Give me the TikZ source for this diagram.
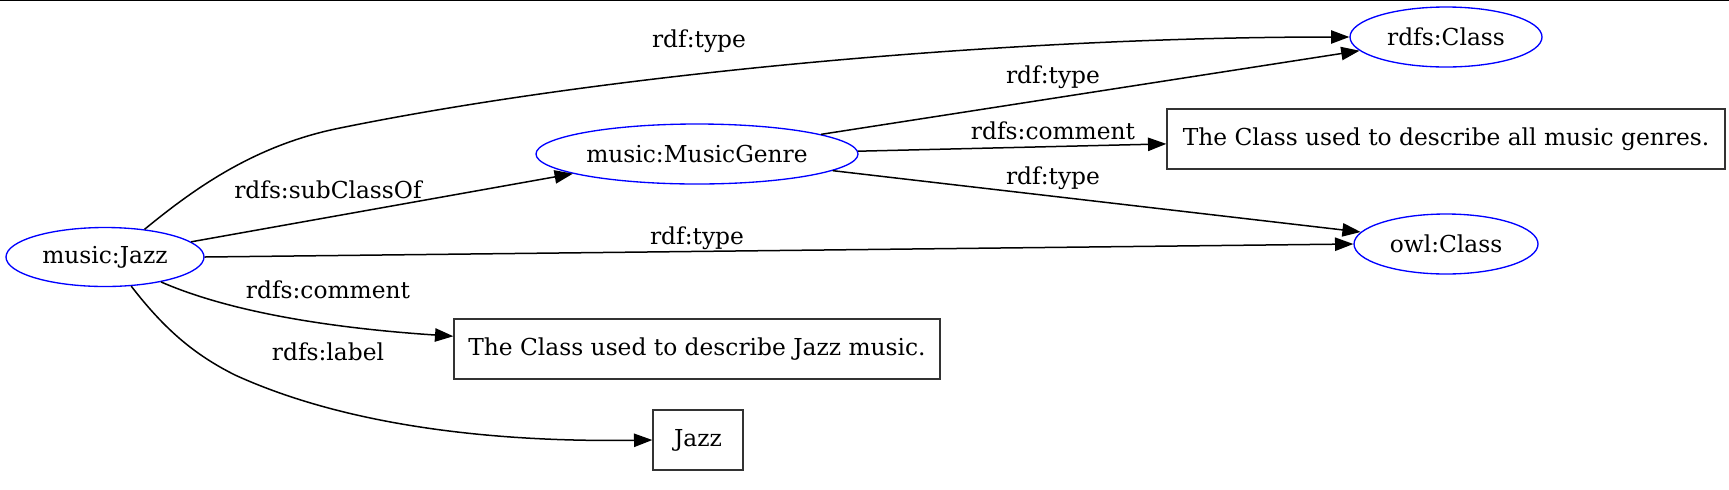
\documentclass[tikz,border=0pt]{standalone}
\usepackage{fontspec}
\setmainfont{DejaVu Serif}
\usetikzlibrary{arrows.meta,shapes.geometric}
\begin{document}
\begin{tikzpicture}[x=0.6pt,y=-0.6pt,
  every node/.style={font=\fontsize{14}{16}\selectfont},
  res/.style={ellipse,draw=blue,line width=0.8pt,inner sep=0pt},
  lit/.style={rectangle,draw=black!80,line width=0.8pt,inner sep=0pt},
  edge/.style={draw=black,line width=0.9pt,-{Triangle[length=11pt,width=8pt]}},
  lbl/.style={anchor=base,inner sep=0pt}]
\useasboundingbox (0,0) rectangle (1729,489);
\draw[line width=1.2pt] (0,0) -- (1729,0);
% nodes
\node[res,minimum width=118.8pt,minimum height=35.4pt] (jazz) at (105,257) {music:Jazz};
\node[res,minimum width=193.2pt,minimum height=36pt] (genre) at (697,154) {music:MusicGenre};
\node[res,minimum width=115.2pt,minimum height=36pt] (rdfsclass) at (1446,37) {rdfs:Class};
\node[res,minimum width=110.4pt,minimum height=36pt] (owlclass) at (1446,244) {owl:Class};
\node[lit,minimum width=334.8pt,minimum height=36pt] (gcomment) at (1446,139) {The Class used to describe all music genres.};
\node[lit,minimum width=291.6pt,minimum height=36pt] (jcomment) at (697,349) {The Class used to describe Jazz music.};
\node[lit,minimum width=54pt,minimum height=36pt] (jlabel) at (698,440) {Jazz};
% edges
\draw[edge] (jazz.35) .. controls (195,188) and (255,145) .. (340,128)
  .. controls (600,75) and (1000,37) .. (rdfsclass.west);
\draw[edge] (jazz.10) -- (genre.189.5);
\draw[edge] (jazz.east) -- (owlclass.west);
\draw[edge] (jazz.-24) .. controls (230,312) and (330,328) .. (jcomment.177.6);
\draw[edge] (jazz.-48) .. controls (165,330) and (195,355) .. (235,375)
  .. controls (360,432) and (520,442) .. (jlabel.west);
\draw[edge] (genre.9) -- (rdfsclass.189);
\draw[edge] (genre.1) -- (gcomment.181.2);
\draw[edge] (genre.-7) -- (owlclass.172);
% labels
\node[lbl] (l1) at (699,47.3) {rdf:type};
\node[lbl] (l2) at (328,198.3) {rdfs:subClassOf};
\node[lbl] (l3) at (697,244.5) {rdf:type};
\node[lbl] (l4) at (328,298.5) {rdfs:comment};
\node[lbl] (l5) at (328,360) {rdfs:label};
\node[lbl] (l6) at (1053,83.5) {rdf:type};
\node[lbl] (l7) at (1053,139.5) {rdfs:comment};
\node[lbl] (l8) at (1053,184.5) {rdf:type};
\end{tikzpicture}
\end{document}
